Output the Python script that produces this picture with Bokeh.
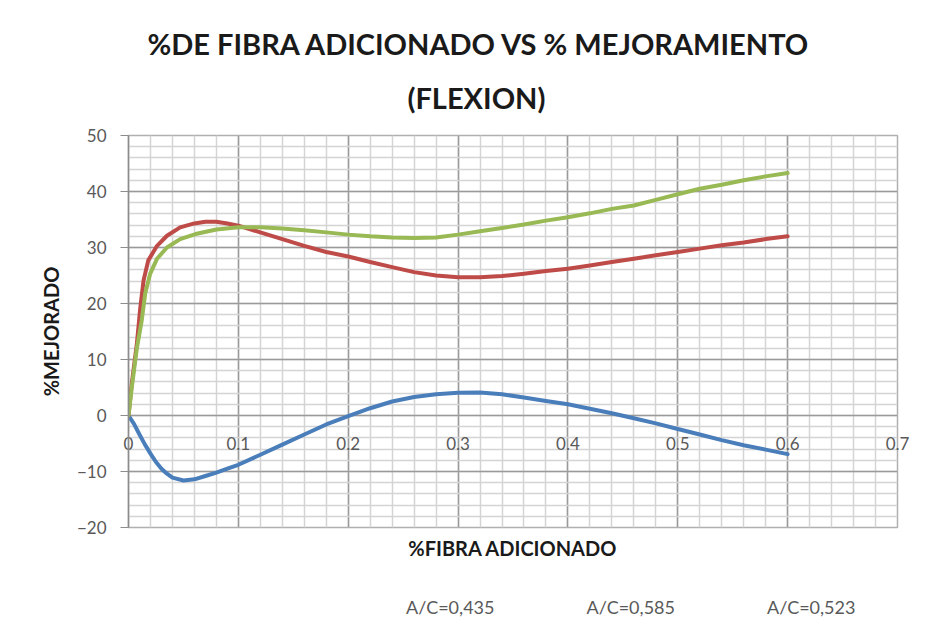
from bokeh.plotting import figure
from bokeh.layouts import column
from bokeh.models import (Range1d, LinearAxis, SingleIntervalTicker, FixedTicker,
                          NumeralTickFormatter, Legend, LegendItem, Title)
from bokeh.embed import file_html
from bokeh.resources import INLINE

title_line1 = "%DE FIBRA ADICIONADO VS % MEJORAMIENTO"
title_line2 = "(FLEXION)"
x_title = "%FIBRA ADICIONADO"
y_title = "%MEJORADO"
series_names = ["A/C=0,435", "A/C=0,585", "A/C=0,523"]
x_ticks = [0, 0.1, 0.2, 0.3, 0.4, 0.5, 0.6, 0.7]
x_minor_ticks = [round(0.02 * i, 2) for i in range(36)]

# A/C=0,435 (blue)
x_blue = [0, 0.005, 0.01, 0.015, 0.02, 0.025, 0.03, 0.035, 0.04, 0.05, 0.06, 0.07,
          0.08, 0.09, 0.1, 0.12, 0.14, 0.16, 0.18, 0.2, 0.22, 0.24, 0.26, 0.28, 0.3,
          0.32, 0.34, 0.36, 0.38, 0.4, 0.42, 0.44, 0.46, 0.48, 0.5, 0.52, 0.54, 0.56,
          0.58, 0.6]
y_blue = [0, -1.5, -3.4, -5.2, -6.8, -8.3, -9.5, -10.4, -11.1, -11.6, -11.4, -10.8,
          -10.2, -9.5, -8.8, -7.0, -5.2, -3.4, -1.6, -0.1, 1.3, 2.5, 3.3, 3.8, 4.05,
          4.1, 3.8, 3.2, 2.6, 2.0, 1.2, 0.4, -0.5, -1.4, -2.4, -3.4, -4.4, -5.3,
          -6.1, -6.9]

# A/C=0,585 (red)
x_red = [0, 0.003, 0.0076, 0.0106, 0.0137, 0.018, 0.026, 0.035, 0.047, 0.06, 0.07,
         0.08, 0.09, 0.1, 0.12, 0.14, 0.16, 0.18, 0.2, 0.22, 0.24, 0.26, 0.28, 0.3,
         0.32, 0.34, 0.36, 0.38, 0.4, 0.42, 0.44, 0.46, 0.48, 0.5, 0.52, 0.54, 0.56,
         0.58, 0.6]
y_red = [0, 5.7, 12.8, 19.0, 24.1, 27.7, 30.3, 32.1, 33.6, 34.3, 34.6,
         34.6, 34.3, 33.9, 32.7, 31.5, 30.3, 29.2, 28.4, 27.4, 26.5, 25.6, 25.0, 24.7,
         24.7, 24.9, 25.3, 25.8, 26.2, 26.8, 27.4, 28.0, 28.6, 29.2, 29.8, 30.4, 30.9,
         31.5, 32.0]

# A/C=0,523 (green)
x_green = [0, 0.003, 0.0076, 0.012, 0.0152, 0.0197, 0.026, 0.035, 0.047, 0.061, 0.08,
           0.1, 0.12, 0.14, 0.16, 0.18, 0.2, 0.22, 0.24, 0.26, 0.28, 0.3, 0.32, 0.34,
           0.36, 0.38, 0.4, 0.42, 0.44, 0.46, 0.48, 0.5, 0.52, 0.54, 0.56, 0.58, 0.6]
y_green = [0, 5.0, 12.0, 16.9, 21.8, 25.3, 28.0, 30.0, 31.5, 32.4, 33.2,
           33.6, 33.6, 33.4, 33.1, 32.7, 32.3, 32.0, 31.8, 31.7, 31.8, 32.3, 32.9, 33.5,
           34.1, 34.8, 35.4, 36.1, 36.9, 37.5, 38.5, 39.5, 40.5, 41.2, 42.0, 42.7, 43.3]

FONT = "Lato"
TICK_COLOR = "#595959"
TEXT_DARK = "#1a1a1a"
colors = ["#4a7ebb", "#be4b48", "#98b954"]

p = figure(frame_width=769, frame_height=392,
           x_range=Range1d(0, 0.7), y_range=Range1d(-20, 50),
           output_backend="svg", toolbar_location=None,
           min_border_left=128, min_border_right=22, min_border_top=135,
           min_border_bottom=60)
p.outline_line_color = "#b0b0b0"
p.outline_line_width = 1.5

# titles: p.title is the outer line, the added Title sits next to the plot area
t1 = p.title
t1.text = title_line1
t1.align = "left"
t1.offset = 19
t1.vertical_align = "bottom"
t1.standoff = 0
t2 = Title(text=title_line2, align="left", offset=279, vertical_align="top", standoff=38)
for t in (t1, t2):
    t.text_font = FONT
    t.text_font_style = "bold"
    t.text_font_size = "29px"
    t.text_color = TEXT_DARK
p.add_layout(t2, "above")

# grids
p.xgrid.ticker = FixedTicker(ticks=x_ticks, minor_ticks=x_minor_ticks)
p.ygrid.ticker = SingleIntervalTicker(interval=10, num_minor_ticks=5)
for g in (p.xgrid, p.ygrid):
    g.grid_line_color = "#9a9a9a"
    g.grid_line_width = 1.5
    g.minor_grid_line_color = "#d4d4d4"
    g.minor_grid_line_width = 1.5

# y axis
ya = p.yaxis[0]
ya.ticker = SingleIntervalTicker(interval=10)
ya.axis_line_color = "#8c8c8c"
ya.axis_line_width = 1.5
ya.major_tick_line_color = "#8c8c8c"
ya.major_tick_out = 8
ya.major_tick_in = 0
ya.minor_tick_line_color = None
ya.major_label_standoff = 14
ya.major_label_text_font = FONT
ya.major_label_text_font_size = "17px"
ya.major_label_text_color = TICK_COLOR
ya.axis_label = y_title
ya.axis_label_text_font = FONT
ya.axis_label_text_font_style = "bold"
ya.axis_label_text_font_size = "20px"
ya.axis_label_text_color = TEXT_DARK
ya.axis_label_standoff = 11

# x axis tick labels next to the y = 0 line (Excel style crossing)
xa = p.xaxis[0]
xa.ticker = FixedTicker(ticks=x_ticks)
xa.formatter = NumeralTickFormatter(format="0.[0]")
xa.axis_line_color = None
xa.major_tick_line_color = None
xa.minor_tick_line_color = None
xa.major_tick_out = 0
xa.major_tick_in = 0
xa.major_label_standoff = -91
xa.major_label_text_font = FONT
xa.major_label_text_font_size = "17px"
xa.major_label_text_color = TICK_COLOR

# x axis title below the plot area
xl = LinearAxis(ticker=FixedTicker(ticks=[]))
xl.axis_line_color = None
xl.major_tick_line_color = None
xl.minor_tick_line_color = None
xl.major_tick_out = 0
xl.major_tick_in = 0
xl.axis_label = x_title
xl.axis_label_text_font = FONT
xl.axis_label_text_font_style = "bold"
xl.axis_label_text_font_size = "20px"
xl.axis_label_text_color = TEXT_DARK
xl.axis_label_standoff = 8
p.add_layout(xl, "below")

data = [(x_blue, y_blue), (x_red, y_red), (x_green, y_green)]
for (xs, ys), c in zip(data, colors):
    p.line(xs, ys, line_color=c, line_width=4, line_join="round", line_cap="round")

# legend strip under the chart (separate canvas so it is laid out predictably)
leg = figure(width=919, height=40, x_range=Range1d(0, 1), y_range=Range1d(0, 1),
             output_backend="svg", toolbar_location=None,
             x_axis_location=None, y_axis_location=None, min_border=0)
leg.grid.visible = False
leg.outline_line_color = None
leg_renderers = [leg.line(x=[], y=[], line_color=c, line_width=4) for c in colors]
legend = Legend(items=[LegendItem(label=n, renderers=[r]) for n, r in zip(series_names, leg_renderers)],
                orientation="horizontal", location=(227, 9),
                border_line_color=None, background_fill_alpha=0,
                glyph_width=48, glyph_height=18, label_standoff=3, spacing=41,
                padding=0, margin=0,
                label_text_font=FONT, label_text_font_size="18px",
                label_text_color=TICK_COLOR)
leg.add_layout(legend, "center")

layout = column(p, leg, spacing=0)
open("out.html", "w").write(file_html(layout, INLINE))
